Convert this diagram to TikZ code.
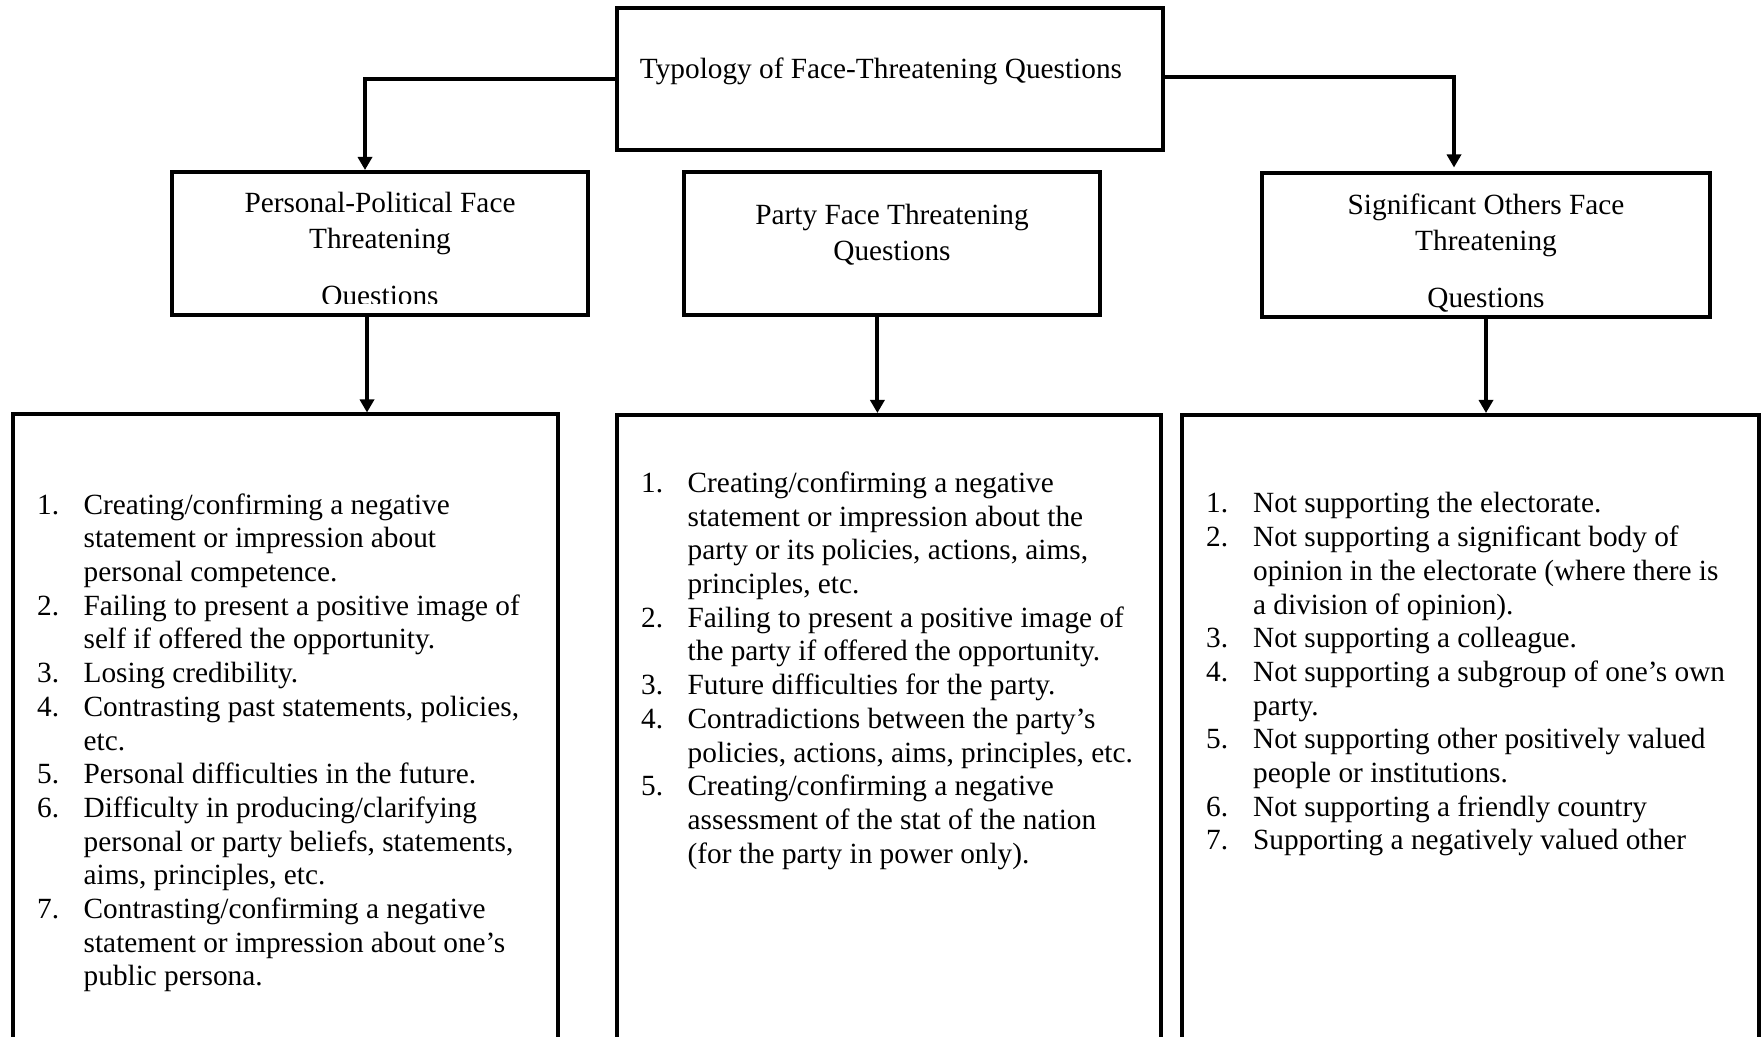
\documentclass[tikz,border=0pt]{standalone}
\usepackage{fontspec}
\setmainfont{Liberation Serif}
\usetikzlibrary{arrows.meta}
\begin{document}
\begin{tikzpicture}[x=0.5pt,y=-0.5pt,
  box/.style={draw, line width=2pt, inner sep=0pt, fill=white},
  arr/.style={line width=2pt, -{Triangle[length=6.5pt,width=7pt]}},
  head/.style={inner sep=0pt, anchor=base, font=\fontsize{14.65pt}{18pt}\selectfont},
  listtext/.style={inner sep=0pt, anchor=base west, font=\fontsize{14.65pt}{16.85pt}\selectfont}
]
\useasboundingbox (0,0) rectangle (1763,1037);
\clip (0,0) rectangle (1763,1037);
\fill[white] (0,0) rectangle (1763,1037);

% boxes
\node[box, minimum width=273pt, minimum height=71pt] (top) at (890,79) {};
\node[box, minimum width=208pt, minimum height=71.5pt] (pp) at (380,243.5) {};
\node[box, minimum width=208pt, minimum height=71.5pt] (pf) at (892,243.5) {};
\node[box, minimum width=224pt, minimum height=72pt] (so) at (1486,245.5) {};
\node[box, minimum width=272.35pt, minimum height=332.75pt] (l1) at (285.65,747.25) {};
\node[box, minimum width=272pt, minimum height=332.5pt] (l2) at (889,747.5) {};
\node[box, minimum width=288.25pt, minimum height=332.5pt] (l3) at (1470.25,747.5) {};

% headings
\node[head] (ttop) at (881,78.5) {Typology of Face-Threatening Questions};
\node[head] (tpp1) at (380,212.5) {Personal-Political Face};
\node[head] (tpp2) at (380,248.5) {Threatening};
\begin{scope}
  \clip (172,172) rectangle (588,303.3);
  \node[head] (tpp3) at (380,305.5) {Questions};
\end{scope}
\node[head] (tpf1) at (892,225) {Party Face Threatening};
\node[head] (tpf2) at (892,261) {Questions};
\node[head] (tso1) at (1486,215) {Significant Others Face};
\node[head] (tso2) at (1486,251) {Threatening};
\node[head] (tso3) at (1486,308) {Questions};

% connectors
\draw[arr] (top.west) -| ([xshift=-7.5pt]pp.north);
\draw[arr] ([yshift=1pt]top.east) -| ([xshift=-16pt,yshift=2pt]so.north);
\draw[arr] ([xshift=-6.5pt]pp.south) -- ([xshift=-6.5pt]pp.south |- l1.north);
\draw[arr] ([xshift=-7.3pt]pf.south) -- ([xshift=-7.3pt]pf.south |- l2.north);
\draw[arr] (so.south) -- (so.south |- l3.north);

% lists
\node[listtext] (list1) at (36.7,514.2) {\begin{tabular}[t]{@{}p{23.3pt}@{}l@{}}
1. & Creating/confirming a negative\\
   & statement or impression about\\
   & personal competence.\\
2. & Failing to present a positive image of\\
   & self if offered the opportunity.\\
3. & Losing credibility.\\
4. & Contrasting past statements, policies,\\
   & etc.\\
5. & Personal difficulties in the future.\\
6. & Difficulty in producing/clarifying\\
   & personal or party beliefs, statements,\\
   & aims, principles, etc.\\
7. & Contrasting/confirming a negative\\
   & statement or impression about one’s\\
   & public persona.
\end{tabular}};

\node[listtext] (list2) at (640.7,492.5) {\begin{tabular}[t]{@{}p{23.3pt}@{}l@{}}
1. & Creating/confirming a negative\\
   & statement or impression about the\\
   & party or its policies, actions, aims,\\
   & principles, etc.\\
2. & Failing to present a positive image of\\
   & the party if offered the opportunity.\\
3. & Future difficulties for the party.\\
4. & Contradictions between the party’s\\
   & policies, actions, aims, principles, etc.\\
5. & Creating/confirming a negative\\
   & assessment of the stat of the nation\\
   & (for the party in power only).
\end{tabular}};

\node[listtext] (list3) at (1205.7,513) {\begin{tabular}[t]{@{}p{23.5pt}@{}l@{}}
1. & Not supporting the electorate.\\
2. & Not supporting a significant body of\\
   & opinion in the electorate (where there is\\
   & a division of opinion).\\
3. & Not supporting a colleague.\\
4. & Not supporting a subgroup of one’s own\\
   & party.\\
5. & Not supporting other positively valued\\
   & people or institutions.\\
6. & Not supporting a friendly country\\
7. & Supporting a negatively valued other
\end{tabular}};
\end{tikzpicture}
\end{document}
